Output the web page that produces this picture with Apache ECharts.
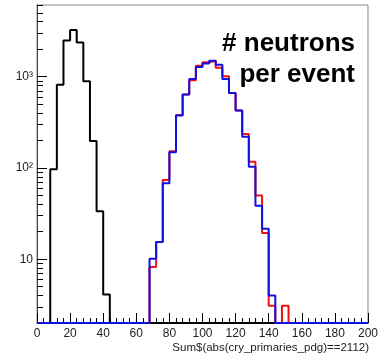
<!DOCTYPE html>
<html>
<head>
<meta charset="utf-8">
<script src="https://cdn.jsdelivr.net/npm/echarts@6/dist/echarts.min.js"></script>
<style>html,body{margin:0;padding:0;background:#fff}#c{width:381px;height:355px}</style>
</head>
<body>
<div id="c"></div>
<script>
// Histogram binning (width 4, from 0 to 200)
var binWidth = 4;
var xMin = 0, xMax = 200;
var yMin = 2, yMax = 6100;

// black histogram: counts starting at bin edge 8
var blackStart = 8;
var blackCounts = [97, 818, 2489, 3256, 2366, 889, 197, 33.5, 4.1];

// red histogram: counts starting at bin edge 68
var redStart = 68;
var redCounts = [8.2, 15.4, 74, 152, 380, 636, 911, 1320, 1440, 1495, 1250, 1008, 664, 426, 235, 117, 50, 19.4, 3.1, 0, 3.1];

// blue histogram: counts starting at bin edge 68
var blueStart = 68;
var blueCounts = [10.1, 15.4, 68, 149, 376, 636, 944, 1280, 1390, 1495, 1350, 944, 664, 426, 220, 103, 38.5, 21.5, 4.0];

var xTickLabels = ['0','20','40','60','80','100','120','140','160','180','200'];
var yMajorTicks = [10, 100, 1000];
var yMajorLabels = ['10', '10\u00B2', '10\u00B3'];
var yMinorTicks = [3,4,5,6,7,8,9,20,30,40,50,60,70,80,90,200,300,400,500,600,700,800,900,2000,3000,4000,5000,6000];

function buildSteps(start, counts) {
  var pts = [];
  for (var e = xMin; e < xMax; e += binWidth) {
    var idx = (e - start) / binWidth;
    var v = (idx >= 0 && idx < counts.length) ? counts[idx] : 0;
    pts.push([e, Math.max(v, yMin)]);
  }
  var last = pts[pts.length - 1][1];
  pts.push([xMax, last]);
  return pts;
}

var chart = echarts.init(document.getElementById('c'), null, {renderer: 'canvas'});
var font = 'Liberation Sans, Arial, Helvetica, sans-serif';
var ax = {
  type: 'log', logBase: 10, min: yMin, max: yMax, position: 'left',
  splitLine: {show: false}, minorTick: {show: false}, minorSplitLine: {show: false}
};
chart.setOption({
  animation: false,
  backgroundColor: '#fff',
  grid: {left: 37, right: 9.5, top: 5, bottom: 32, show: true, borderColor: '#888', borderWidth: 1, backgroundColor: 'transparent'},
  xAxis: {
    type: 'value', min: xMin, max: xMax, interval: 20,
    axisLine: {show: true, lineStyle: {color: '#000', width: 1}},
    axisTick: {show: true, inside: true, length: 10, lineStyle: {color: '#000', width: 1}},
    minorTick: {show: true, splitNumber: 5, length: 5, lineStyle: {color: '#000', width: 1}},
    splitLine: {show: false},
    axisLabel: {margin: 5, fontSize: 12, fontFamily: font, color: '#222',
      formatter: function (v) { return xTickLabels[Math.round(v / 20)]; }}
  },
  yAxis: [
    Object.assign({}, ax, {
      axisLine: {show: true, lineStyle: {color: '#444', width: 1}},
      axisTick: {show: true, inside: true, length: 10, customValues: yMajorTicks, lineStyle: {color: '#000', width: 1}},
      axisLabel: {show: true, customValues: yMajorTicks, margin: 4, fontSize: 12, fontFamily: font, color: '#222',
        formatter: function (v) { var i = yMajorTicks.indexOf(Math.round(v)); return i >= 0 ? yMajorLabels[i] : ''; }}
    }),
    Object.assign({}, ax, {
      axisLine: {show: false},
      axisTick: {show: true, inside: true, length: 6, customValues: yMinorTicks, lineStyle: {color: '#000', width: 1}},
      axisLabel: {show: false}
    })
  ],
  series: [
    {type: 'line', step: 'end', data: buildSteps(blackStart, blackCounts), symbol: 'none', clip: false,
      lineStyle: {color: '#000', width: 2}, yAxisIndex: 0, z: 2},
    {type: 'line', step: 'end', data: buildSteps(redStart, redCounts), symbol: 'none', clip: false,
      lineStyle: {color: '#f01010', width: 2}, yAxisIndex: 0, z: 3},
    {type: 'line', step: 'end', data: buildSteps(blueStart, blueCounts), symbol: 'none', clip: false,
      lineStyle: {color: '#1010e0', width: 2}, yAxisIndex: 0, z: 4}
  ],
  graphic: [
    {type: 'text', right: 381 - 355, top: 31, style: {text: '# neutrons', font: 'bold 26px ' + font, fill: '#000', textAlign: 'right'}},
    {type: 'text', right: 381 - 355, top: 62, style: {text: 'per event', font: 'bold 26px ' + font, fill: '#000', textAlign: 'right'}},
    {type: 'text', right: 381 - 369, top: 342, style: {text: 'Sum$(abs(cry_primaries_pdg)==2112)', font: '11.5px ' + font, fill: '#222', textAlign: 'right'}}
  ]
});
</script>
</body>
</html>
